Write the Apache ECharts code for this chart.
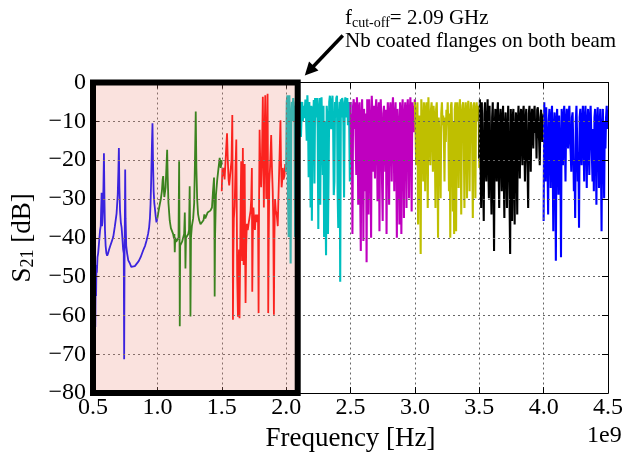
<!DOCTYPE html>
<html>
<head>
<meta charset="utf-8">
<script src="https://cdn.jsdelivr.net/npm/echarts@6/dist/echarts.min.js"></script>
<style>
html, body { margin: 0; padding: 0; background: #fff; }
#chart { width: 626px; height: 457px; }
</style>
</head>
<body>
<div id="chart"></div>
<script>
// axis ranges (frequency in units of 1e9 Hz)
var xMin = 0.5, xMax = 4.5, xStep = 0.5;
var yMin = -80, yMax = 0, yStep = 10;
var cutoffGHz = 2.09;

// 0.5 - 1.0 GHz (blue)
var band1 = [[0.500,-74],[0.503,-62],[0.506,-70],[0.509,-52],[0.512,-66],[0.515,-58],[0.518,-63],[0.521,-50],
  [0.524,-55],[0.527,-47],[0.530,-49],[0.535,-45],[0.540,-44],[0.545,-42],[0.550,-40],[0.555,-38],[0.560,-37],
  [0.563,-33],[0.567,-28.4],[0.570,-37],[0.573,-36],[0.577,-33],[0.581,-27],[0.585,-18.2],[0.589,-30],[0.593,-38],
  [0.598,-42],[0.604,-44],[0.610,-44.6],[0.617,-44],[0.625,-43],[0.635,-42],[0.645,-41],[0.657,-39.8],[0.670,-37],
  [0.683,-33.8],[0.692,-29],[0.697,-23],[0.701,-16.9],[0.705,-27],[0.710,-33],[0.716,-36],[0.722,-37.3],[0.728,-40],
  [0.734,-43],[0.739,-44],[0.742,-71.3],[0.745,-45],[0.748,-33],[0.750,-22.4],[0.753,-35],[0.758,-42],[0.765,-44],
  [0.774,-45.8],[0.785,-46.5],[0.797,-47.5],[0.812,-47.9],[0.825,-47.3],[0.840,-47],[0.855,-46],[0.870,-45],
  [0.890,-43.2],[0.905,-42],[0.916,-40.7],[0.928,-39],[0.936,-37.3],[0.942,-35],[0.947,-31.3],[0.952,-25],
  [0.957,-17],[0.962,-10.5],[0.966,-20],[0.971,-28],[0.976,-31],[0.980,-32.2],[0.987,-34.5],[0.993,-36],[1.000,-35]];

// 1.0 - 1.5 GHz (green)
var band2 = [[1.000,-35],[1.010,-33],[1.019,-31.3],[1.027,-30],[1.035,-28],[1.041,-25],[1.045,-24.1],[1.049,-27],
  [1.054,-29.5],[1.058,-29.2],[1.064,-27],[1.070,-22],[1.076,-17.3],[1.080,-24],[1.086,-31],[1.096,-35.6],
  [1.105,-37.5],[1.113,-38],[1.122,-39],[1.128,-40],[1.132,-39],[1.135,-43.7],[1.139,-40],[1.146,-41],[1.152,-40.5],
  [1.158,-41.5],[1.164,-40],[1.169,-20.3],[1.172,-40],[1.174,-62.8],[1.177,-42],[1.185,-41.8],[1.192,-41],
  [1.200,-40],[1.208,-39],[1.213,-33.5],[1.216,-40],[1.218,-47.9],[1.222,-40],[1.230,-39.5],[1.240,-39],
  [1.246,-38],[1.251,-26.7],[1.254,-38],[1.257,-60.3],[1.261,-40],[1.268,-37],[1.278,-35],[1.286,-31],[1.292,-20],
  [1.298,-7.5],[1.303,-22],[1.309,-30],[1.316,-33.9],[1.325,-35.5],[1.335,-36.5],[1.342,-36.4],[1.350,-36.9],
  [1.358,-35.5],[1.365,-34],[1.372,-35],[1.380,-34.5],[1.390,-33.5],[1.400,-33],[1.412,-33],[1.424,-32.2],
  [1.432,-28],[1.440,-24.5],[1.443,-35],[1.445,-55.1],[1.448,-40],[1.455,-29],[1.465,-25],[1.475,-22],
  [1.484,-19.4],[1.492,-22],[1.500,-20]];

// 1.5 - 2.0 GHz (red)
var band3 = [[1.500,-28],[1.505,-22],[1.510,-24.1],[1.516,-22],[1.522,-25],[1.530,-20],[1.536,-16],[1.541,-13.1],
  [1.547,-20],[1.553,-25],[1.558,-26.5],[1.564,-26],[1.570,-27],[1.576,-20],[1.582,-8.4],[1.585,-30],[1.587,-61.1],
  [1.590,-45],[1.594,-35],[1.600,-32],[1.607,-22],[1.613,-14.7],[1.617,-35],[1.620,-50],[1.626,-60.3],[1.630,-48],
  [1.634,-43],[1.638,-60.7],[1.643,-45],[1.647,-30],[1.651,-20.3],[1.655,-40],[1.658,-46],[1.661,-30],[1.664,-16.9],
  [1.667,-35],[1.670,-47],[1.674,-38],[1.678,-21],[1.682,-45],[1.685,-56.8],[1.690,-42],[1.695,-36.4],[1.702,-38],
  [1.710,-36],[1.717,-35.9],[1.724,-33],[1.729,-30],[1.734,-22],[1.737,-53.9],[1.741,-40],[1.746,-32.2],[1.752,-36],
  [1.758,-38],[1.764,-34],[1.770,-36],[1.776,-34],[1.782,-35],[1.786,-59.4],[1.790,-30],[1.794,-12.2],[1.800,-22],
  [1.806,-27],[1.812,-20],[1.819,-3.7],[1.824,-20],[1.827,-32.2],[1.832,-15],[1.838,-3.3],[1.842,-20],[1.846,-30],
  [1.851,-15],[1.856,-2.9],[1.859,-25],[1.861,-59.4],[1.865,-40],[1.869,-26],[1.875,-22],[1.884,-13.5],[1.890,-22],
  [1.896,-28],[1.900,-35],[1.905,-59.8],[1.909,-40],[1.914,-30],[1.920,-33],[1.927,-34],[1.935,-37],[1.940,-30],
  [1.945,-24],[1.952,-15],[1.956,-9.7],[1.960,-20],[1.965,-27],[1.970,-25],[1.974,-22],[1.980,-25],[1.987,-24],
  [1.993,-21],[2.000,-23]];

// dense bands: readings at 5 MHz steps across each 0.5 GHz band
var band4Db = [-23,-5,-3.3,-30,-39.8,-3.3,-20,-46.6,-8.5,-5,-10,-4,-9,-6,-39.8,-4.9,-8,-5,-20,-6,
  -4,-12,-5,-14,-8,-5,-10,-6,-9.2,-7,-4.4,-9,-15,-3.3,-8,-24.4,-5,-12,-32.2,-6,
  -35.6,-6.2,-10,-4.5,-26,-4,-9,-6,-4,-11.8,-37.7,-7,-4,-31.5,-8,-3.8,-14,-23.8,-6,-39.8,
  -10,-28,-44.5,-6,-8.5,-39,-23,-5,-3.4,-9,-12,-5,-3.4,-10,-29,-25.5,-5,-9,-4,-3.4,
  -28,-37.5,-8.5,-5,-51.3,-4.3,-9,-4,-5,-11,-29.6,-6,-3.8,-9,-8.5,-4,-11,-5,-10,-25.5,-5];

var band5Db = [-5,-20,-8,-39,-6,-4.3,-12,-5.1,-15,-23.8,-3.8,-10,-31.5,-7,-5.1,-28,-43.4,-9,-4.3,-14,
  -40.8,-6.8,-12,-28,-8,-46.3,-4.3,-10,-34,-4.3,-9,-18,-40,-3.4,-8,-23,-6,-10.2,-24.7,-7,
  -4.3,-12,-30.6,-8,-5.1,-38.3,-9,-4.3,-11,-25.5,-35.7,-8,-6,-14,-23,-7,-39,-10,-5.1,-13,
  -31.5,-8,-5.1,-11,-25.5,-7,-3.8,-12,-28,-9,-5.1,-15,-40,-6.8,-10,-20,-36.6,-5.1,-9,-39,
  -8,-4.3,-14.5,-34.9,-9,-5.1,-12,-32.3,-7,-4.3,-11,-29.8,-8,-3.8,-13,-33.2,-5.1,-9,-6,-12.8,-4.3];

var band6Db = [-5,-12,-21.3,-8,-5.1,-36.6,-10,-8.5,-18,-44.2,-4.3,-9,-14,-25.5,-5.1,-11,-28,-7,-5.1,-15,
  -32.3,-3.8,-9,-13,-21.3,-7,-5.1,-12,-23,-6,-8.5,-16,-32.3,-7,-5.1,-14,-40,-9,-8.5,-18,
  -29.8,-8,-5.1,-11,-8.5,-13,-25.5,-9,-15.3,-7,-10,-5.1,-12,-28,-8,-40,-6,-5.1,-14,-33.2,
  -10,-39,-7,-5.1,-38.3,-9,-5.1,-13,-27.2,-8,-4.3,-11,-34,-9,-6,-5.1,-15,-32.3,-8,-5.1,
  -12,-29.8,-7,-4.7,-14,-28,-9,-5.1,-6,-16,-34.9,-8,-5.1,-12,-29.8,-7,-5.1,-10,-6.8,-6,-22];

var band7Db = [-19.6,-4.3,-20,-32.3,-5.1,-18,-25,-35.7,-8,-5.1,-22,-25.5,-10,-4.3,-20,-29.8,-6,-17,-24,-34,
  -9,-5.1,-22,-43.4,-12,-6.8,-18,-25.5,-8,-5.1,-21,-32.3,-10,-6.8,-19,-28,-9,-6,-23,-34.9,
  -11,-7.7,-20,-32.3,-12,-6,-18,-30,-44.2,-6.8,-21,-35.7,-9,-6.8,-24,-36.6,-12,-7.7,-19,-34,
  -10,-6,-16,-24.7,-9,-6.8,-14,-21.3,-8,-6,-15,-25.5,-10,-6.8,-17,-22,-32.3,-8,-6,-14,
  -23,-9,-6.8,-12,-17,-8,-6,-13,-10,-19.6,-7,-6.4,-12,-15,-21.3,-9,-7,-6.8,-15.3,-10,-8];

var band8Db = [-35.7,-5.1,-15,-25.5,-6.4,-14,-20,-34,-10,-6.8,-16,-27.2,-9,-6,-18,-38.3,-12,-7.7,-20,-45.9,
  -10,-6.8,-17,-28.9,-8.5,-14,-19,-45,-6.8,-12,-21.3,-9,-6,-15,-25.5,-10,-6.8,-13,-17,-8,
  -6,-14,-18,-23,-9,-7.7,-16,-28,-20,-34.9,-10,-6,-14,-25.5,-18,-37.4,-9,-6.8,-13,-21.3,
  -10,-6,-15,-25.5,-9,-6,-14,-27.2,-11,-6.8,-16,-23.8,-9,-6,-13,-19,-25.5,-12,-28,-9,
  -6.8,-17,-31.5,-10,-6.4,-14,-27.2,-11,-6.8,-20,-38.3,-12,-6.8,-15,-29.8,-10,-17,-9,-6,-12,-7];

var bandColors = ['#0000ff', '#008000', '#ff0000', '#00bfbf', '#bf00bf', '#bfbf00', '#000000', '#0000ff'];

function spread(start, end, vals) {
  var step = (end - start) / (vals.length - 1);
  return vals.map(function (v, i) { return [start + i * step, v]; });
}

var bands = [
  band1, band2, band3,
  spread(2.0, 2.5, band4Db), spread(2.5, 3.0, band5Db), spread(3.0, 3.5, band6Db),
  spread(3.5, 4.0, band7Db), spread(4.0, 4.5, band8Db)
];

var serif = 'Liberation Serif, Times New Roman, serif';
var chart = echarts.init(document.getElementById('chart'));

var series = bands.map(function (d, i) {
  return {
    type: 'line',
    data: d,
    showSymbol: false,
    symbol: 'none',
    z: 2,
    lineStyle: { color: bandColors[i], width: i < 3 ? 1.8 : 2.1 },
    emphasis: { disabled: true },
    animation: false
  };
});

// shaded region below cut-off with thick frame, drawn above the curves
series.push({
  type: 'line',
  data: [],
  z: 4,
  clip: false,
  animation: false,
  markArea: {
    silent: true,
    z: 6,
    itemStyle: { color: 'rgba(235,140,125,0.25)', borderColor: '#000', borderWidth: 6 },
    data: [[{ coord: [xMin, yMin] }, { coord: [cutoffGHz, yMax] }]]
  }
});

function axisCommon(extra) {
  var a = {
    type: 'value',
    z: 3,
    axisLine: { show: true, onZero: false, lineStyle: { color: '#000', width: 1 } },
    axisTick: { show: true, inside: true, length: 6, lineStyle: { color: '#000' } },
    splitLine: { show: false }
  };
  for (var k in extra) a[k] = extra[k];
  return a;
}

chart.setOption({
  backgroundColor: '#fff',
  animation: false,
  grid: { left: 93, right: 16.5, top: 82.5, bottom: 61 },
  xAxis: [
    axisCommon({
      min: xMin, max: xMax, interval: xStep,
      name: 'Frequency [Hz]', nameLocation: 'middle', nameGap: 20,
      nameTextStyle: { fontFamily: serif, fontSize: 27, color: '#000' },
      axisLabel: {
        color: '#000', fontFamily: serif, fontSize: 24, margin: 3,
        formatter: function (v) { return v.toFixed(1); }
      },
      splitLine: { show: true, lineStyle: { color: '#666', width: 1, type: [2, 3] } }
    }),
    axisCommon({
      position: 'top', min: xMin, max: xMax, interval: xStep,
      axisLabel: { show: false }
    })
  ],
  yAxis: [
    axisCommon({
      min: yMin, max: yMax, interval: yStep,
      name: '{m|S}{s|21}{m| [dB]}', nameLocation: 'middle', nameGap: 55,
      nameTextStyle: {
        color: '#000',
        rich: {
          m: { fontFamily: serif, fontSize: 27, lineHeight: 30, color: '#000' },
          s: { fontFamily: serif, fontSize: 18, lineHeight: 18, verticalAlign: 'bottom', color: '#000' }
        }
      },
      axisLabel: {
        color: '#000', fontFamily: serif, fontSize: 24, margin: 7,
        formatter: function (v) { return v < 0 ? '\u2212' + (-v) : String(v); }
      },
      splitLine: { show: true, lineStyle: { color: '#666', width: 1, type: [2, 3] } }
    }),
    axisCommon({
      position: 'right', min: yMin, max: yMax, interval: yStep,
      axisLabel: { show: false }
    })
  ],
  series: series
});

// annotation arrow pointing at the cut-off corner, texts and offset label
var tip = chart.convertToPixel({ gridIndex: 0 }, [2.145, 1.8]);
var tail = [tip[0] + 38, tip[1] - 40];
var dx = tip[0] - tail[0], dy = tip[1] - tail[1];
var len = Math.sqrt(dx * dx + dy * dy);
var ux = dx / len, uy = dy / len;
var hl = 13, hw = 6.5;
var bx = tip[0] - ux * hl, by = tip[1] - uy * hl;

chart.setOption({
  graphic: [
    {
      type: 'line', silent: true,
      shape: { x1: tail[0], y1: tail[1], x2: bx + ux * 2, y2: by + uy * 2 },
      style: { stroke: '#000', lineWidth: 3.5 }
    },
    {
      type: 'polygon', silent: true,
      shape: { points: [tip, [bx - uy * hw, by + ux * hw], [bx + uy * hw, by - ux * hw]] },
      style: { fill: '#000' }
    },
    {
      type: 'text', left: 345, top: 8, silent: true,
      style: {
        text: '{m|f}{s|cut-off}{m|= 2.09 GHz}',
        rich: {
          m: { fontFamily: serif, fontSize: 21, lineHeight: 24, fill: '#000' },
          s: { fontFamily: serif, fontSize: 14, lineHeight: 14, verticalAlign: 'bottom', fill: '#000' }
        }
      }
    },
    {
      type: 'text', left: 345, top: 31, silent: true,
      style: { text: 'Nb coated flanges on both beam', fontFamily: serif, fontSize: 21, fill: '#000' }
    },
    {
      type: 'text', left: 587, top: 424, silent: true,
      style: { text: '1e9', fontFamily: serif, fontSize: 24, fill: '#000' }
    }
  ]
});
</script>
</body>
</html>
